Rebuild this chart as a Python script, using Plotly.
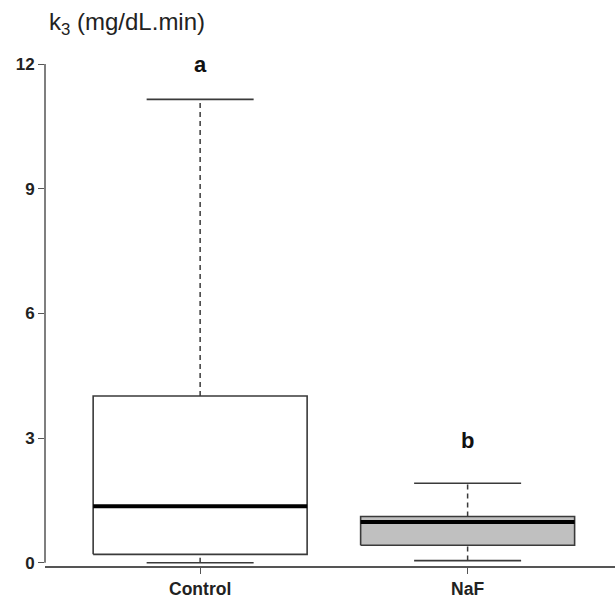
import plotly.graph_objects as go

# ---- data ----
groups = ["Control", "NaF"]
lower_whisker = [0.00, 0.05]
q1 = [0.20, 0.42]
median = [1.36, 0.98]
q3 = [4.01, 1.11]
upper_whisker = [11.15, 1.91]
sig_letters = ["a", "b"]
fill_colors = ["#ffffff", "#c0c0c0"]

y_ticks = [0, 3, 6, 9, 12]

BOX_HALF = 0.4
CAP_HALF = 0.2
LINE = "#3a3a3a"
FONT = "Liberation Sans, Arial"

fig = go.Figure()

for i, g in enumerate(groups):
    x = i + 1
    # box
    fig.add_trace(go.Scatter(
        x=[x - BOX_HALF, x + BOX_HALF, x + BOX_HALF, x - BOX_HALF, x - BOX_HALF],
        y=[q1[i], q1[i], q3[i], q3[i], q1[i]],
        mode="lines", fill="toself", fillcolor=fill_colors[i],
        line=dict(color=LINE, width=1.6), hoverinfo="skip", showlegend=False))
    # median
    fig.add_trace(go.Scatter(
        x=[x - BOX_HALF, x + BOX_HALF], y=[median[i], median[i]],
        mode="lines", line=dict(color="#000000", width=4),
        hoverinfo="skip", showlegend=False))
    # whiskers (dashed)
    fig.add_trace(go.Scatter(
        x=[x, x], y=[q3[i], upper_whisker[i]], mode="lines",
        line=dict(color=LINE, width=1.5, dash="5px,4px"),
        hoverinfo="skip", showlegend=False))
    fig.add_trace(go.Scatter(
        x=[x, x], y=[lower_whisker[i], q1[i]], mode="lines",
        line=dict(color=LINE, width=1.5, dash="5px,4px"),
        hoverinfo="skip", showlegend=False))
    # caps
    for v in (upper_whisker[i], lower_whisker[i]):
        fig.add_trace(go.Scatter(
            x=[x - CAP_HALF, x + CAP_HALF], y=[v, v], mode="lines",
            line=dict(color=LINE, width=1.6),
            hoverinfo="skip", showlegend=False))

# significance letters
letter_y = [12.0, 2.93]
for i, t in enumerate(sig_letters):
    fig.add_annotation(x=i + 1, y=letter_y[i], xref="x", yref="y", text="<b>%s</b>" % t,
                       showarrow=False, font=dict(family=FONT, size=22, color="#111"),
                       yanchor="middle")

# y axis line spanning the tick range
fig.add_shape(type="line", xref="paper", yref="y", x0=0, x1=0, y0=y_ticks[0], y1=y_ticks[-1],
              line=dict(color="#555555", width=1.5))

# axis title at top left
fig.add_annotation(xref="paper", yref="paper", x=0.003, y=1.0, yshift=17,
                   xanchor="left", yanchor="middle",
                   text="k<sub>3</sub> (mg/dL.min)", showarrow=False,
                   font=dict(family=FONT, size=24, color="#222"))

fig.update_layout(
    width=615, height=601,
    margin=dict(l=45, r=0, t=40, b=35),
    plot_bgcolor="white", paper_bgcolor="white",
    xaxis=dict(range=[0.42, 2.551], tickvals=[1, 2], ticktext=groups,
               showgrid=False, zeroline=False, showline=True, linecolor="#555555", linewidth=1.5,
               ticks="outside", ticklen=6, tickcolor="#555555", tickwidth=1.2,
               automargin=False,
               tickfont=dict(family=FONT, size=17.5, color="#222", weight="bold")),
    yaxis=dict(range=[-0.08, 12.58], tickvals=y_ticks, ticktext=[str(v) for v in y_ticks],
               showgrid=False, zeroline=False, showline=False,
               ticks="outside", ticklen=6, tickcolor="#555555", tickwidth=1.2,
               automargin=False,
               tickfont=dict(family=FONT, size=17, color="#222", weight="bold")),
)

fig.write_html("out.html", config={"displayModeBar": False},
               post_script="document.body.style.margin='0';document.body.style.padding='0';document.body.style.overflow='hidden';")
